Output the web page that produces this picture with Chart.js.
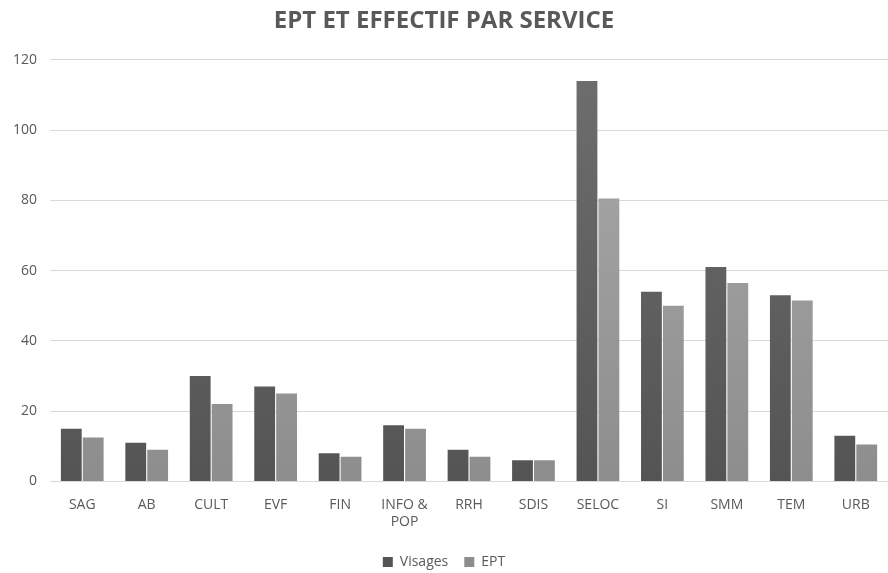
<!DOCTYPE html>
<html>
<head>
<meta charset="utf-8">
<script src="https://cdn.jsdelivr.net/npm/chart.js@4"></script>
<style>
  html, body { margin: 0; padding: 0; background: #fff; }
  #wrap { width: 888px; height: 573px; }
</style>
</head>
<body>
<div id="wrap"><canvas id="myChart" width="888" height="573"></canvas></div>
<script>
// Services and values
const services = ['SAG', 'AB', 'CULT', 'EVF', 'FIN', ['INFO &', 'POP'], 'RRH', 'SDIS', 'SELOC', 'SI', 'SMM', 'TEM', 'URB']
const visages = [15, 11, 30, 27, 8, 16, 9, 6, 114, 54, 61, 53, 13]
const ept = [12.5, 9, 22, 25, 7, 15, 7, 6, 80.5, 50, 56.5, 51.5, 10.5]

// vertical gradient like the Excel bars
function shade(top, bottom) {
    return function(context) {
        const chart = context.chart
        const area = chart.chartArea
        if (!area) return bottom
        const g = chart.ctx.createLinearGradient(0, area.top, 0, area.bottom)
        g.addColorStop(0, top)
        g.addColorStop(1, bottom)
        return g
    }
}

const textColor = '#595959'
const font = "'Open Sans', 'DejaVu Sans', sans-serif"

const ctx = document.getElementById('myChart')
new Chart(ctx, {
    type: 'bar',
    data: {
        labels: services,
        datasets: [{
            label: 'Visages',
            data: visages,
            backgroundColor: shade('#6e6e6e', '#545454'),
            categoryPercentage: 0.68,
            barPercentage: 0.95
        },
        {
            label: 'EPT',
            data: ept,
            backgroundColor: shade('#ababab', '#8d8d8d'),
            categoryPercentage: 0.68,
            barPercentage: 0.95
        }]
    },
    options: {
        responsive: false,
        animation: false,
        layout: { padding: { left: 0, right: 0, top: 0, bottom: -6 } },
        scales: {
            x: {
                grid: { display: false },
                border: { color: '#d9d9d9' },
                ticks: { color: textColor, font: { family: font, size: 14 }, padding: 7, maxRotation: 0, autoSkip: false },
                afterFit: (scale) => { scale.height += 2 }   // extra room under the labels
            },
            y: {
                min: 0,
                max: 120,
                grid: { color: '#d9d9d9', drawTicks: false },
                border: { display: false },
                ticks: { stepSize: 20, color: textColor, font: { family: font, size: 14 }, padding: 13 }
            }
        },
        plugins: {
            title: {
                display: true,
                text: 'EPT ET EFFECTIF PAR SERVICE',
                color: textColor,
                font: { family: font, size: 24, weight: 'bold' },
                padding: { top: 7, bottom: 24 }
            },
            legend: {
                position: 'bottom',
                labels: { color: textColor, font: { family: font, size: 14 }, boxWidth: 10, boxHeight: 10, padding: 16 }
            },
            tooltip: { enabled: false }
        }
    }
})
</script>
</body>
</html>
